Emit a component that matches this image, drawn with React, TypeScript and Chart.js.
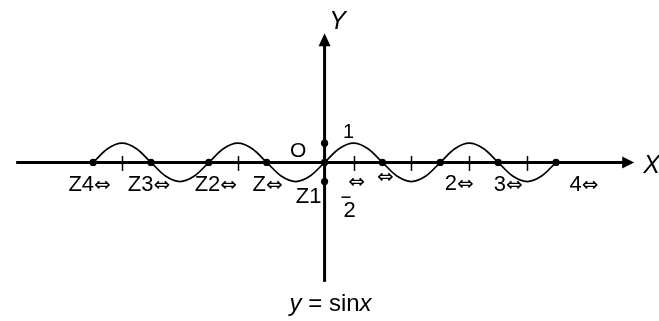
import React, { useEffect, useRef } from "react";
import { Chart, registerables } from "chart.js";

Chart.register(...registerables);

// ---- data (x in units of π) ----
const curveX = [-4, -3.75, -3.5, -3.25, -3, -2.75, -2.5, -2.25, -2, -1.75, -1.5, -1.25, -1, -0.75, -0.5, -0.25, 0, 0.25, 0.5, 0.75, 1, 1.25, 1.5, 1.75, 2, 2.25, 2.5, 2.75, 3, 3.25, 3.5, 3.75, 4];
const curveY = [0, 0.71, 1, 0.71, 0, -0.71, -1, -0.71, 0, 0.71, 1, 0.71, 0, -0.71, -1, -0.71, 0, 0.71, 1, 0.71, 0, -0.71, -1, -0.71, 0, 0.71, 1, 0.71, 0, -0.71, -1, -0.71, 0];
const dotX = [-4, -3, -2, -1, 0, 1, 2, 3, 4, 0, 0];
const dotY = [0, 0, 0, 0, 0, 0, 0, 0, 0, 1, -1];
const tickX = [-3.5, -1.5, 0.5, 1.5, 2.5, 3.5];
const xLabelValues = [-4, -3, -2, -1, 1, 2, 3, 4];
const xLabelTexts = ["Z4⇔", "Z3⇔", "Z2⇔", "Z⇔", "⇔", "2⇔", "3⇔", "4⇔"];
const xAxisRange = [-5.33, 5.35];
const yAxisRange = [-6.22, 6.73];
const scaleX = [-5.54, 5.71];
const scaleY = [-8.05, 8.25];

// ---- layout (pixel offsets from anchors: [dx, baseline dy]) ----
const xLabelOffsets = [
  [-3.5, 28.5], [-2, 28.5], [7, 28.5], [1, 28.5], [3, 20.5], [19, 27.5], [10, 28.5], [28, 28.5],
];
const FONT = "'Liberation Sans', Arial, sans-serif";
const ARROW_FONT = "'DejaVu Sans'";
const FS = 22;

function drawRich(ctx: CanvasRenderingContext2D, text: string, cx: number, by: number, size: number) {
  const runs: { t: string; arrow: boolean }[] = [];
  for (const ch of Array.from(text)) {
    const arrow = ch === "⇔";
    const last = runs[runs.length - 1];
    if (last && last.arrow === arrow) last.t += ch;
    else runs.push({ t: ch, arrow });
  }
  const fontFor = (arrow: boolean) => (arrow ? `${Math.round(size * 0.9)}px ${ARROW_FONT}` : `${size}px ${FONT}`);
  const widths = runs.map((r) => {
    ctx.font = fontFor(r.arrow);
    return ctx.measureText(r.t).width;
  });
  const total = widths.reduce((a, b) => a + b, 0);
  let x = cx - total / 2;
  ctx.textAlign = "left";
  ctx.textBaseline = "alphabetic";
  runs.forEach((r, i) => {
    ctx.font = fontFor(r.arrow);
    ctx.fillText(r.t, x, by);
    x += widths[i];
  });
}

const overlay = {
  id: "overlay",
  beforeDatasetsDraw(chart: any) {
    const ctx = chart.ctx as CanvasRenderingContext2D;
    const xs = chart.scales.x;
    const ys = chart.scales.y;
    const ox = xs.getPixelForValue(0);
    const oy = ys.getPixelForValue(0);
    ctx.save();
    ctx.strokeStyle = "#000";
    ctx.fillStyle = "#000";
    ctx.lineWidth = 3;
    // x axis
    const xl = xs.getPixelForValue(xAxisRange[0]);
    const xr = xs.getPixelForValue(xAxisRange[1]);
    ctx.beginPath();
    ctx.moveTo(xl, oy);
    ctx.lineTo(xr - 8, oy);
    ctx.stroke();
    ctx.beginPath();
    ctx.moveTo(xr, oy);
    ctx.lineTo(xr - 12, oy - 6);
    ctx.lineTo(xr - 12, oy + 6);
    ctx.closePath();
    ctx.fill();
    // y axis
    const yb = ys.getPixelForValue(yAxisRange[0]);
    const yt = ys.getPixelForValue(yAxisRange[1]);
    ctx.beginPath();
    ctx.moveTo(ox, yb);
    ctx.lineTo(ox, yt + 8);
    ctx.stroke();
    ctx.beginPath();
    ctx.moveTo(ox, yt);
    ctx.lineTo(ox - 6, yt + 13);
    ctx.lineTo(ox + 6, yt + 13);
    ctx.closePath();
    ctx.fill();
    // ticks
    ctx.lineWidth = 1.5;
    tickX.forEach((v) => {
      const px = Math.round(xs.getPixelForValue(v)) + 0.5;
      ctx.beginPath();
      ctx.moveTo(px, oy - 6.5);
      ctx.lineTo(px, oy + 8.5);
      ctx.stroke();
    });
    ctx.restore();
  },
  afterDatasetsDraw(chart: any) {
    const ctx = chart.ctx as CanvasRenderingContext2D;
    const xs = chart.scales.x;
    const ys = chart.scales.y;
    const ox = xs.getPixelForValue(0);
    const oy = ys.getPixelForValue(0);
    ctx.save();
    ctx.fillStyle = "#000";
    xLabelValues.forEach((v, i) => {
      const [dx, dy] = xLabelOffsets[i];
      drawRich(ctx, xLabelTexts[i], xs.getPixelForValue(v) + dx, oy + dy, FS);
    });
    // π/2 label: ⇔ over 2 with a bar
    const hx = xs.getPixelForValue(0.5);
    drawRich(ctx, "⇔", hx + 3, oy + 25.5, FS);
    drawRich(ctx, "2", hx - 4, oy + 55, FS);
    ctx.fillRect(hx - 12, oy + 34, 9, 1.5);
    // origin, 1, Z1
    drawRich(ctx, "O", ox - 26.5, oy - 5.5, 21);
    drawRich(ctx, "1", ox + 24, ys.getPixelForValue(1) - 5.5, 20);
    drawRich(ctx, "Z1", ox - 16, ys.getPixelForValue(-1) + 21, FS);
    // axis names
    ctx.textBaseline = "alphabetic";
    ctx.textAlign = "center";
    ctx.font = `italic 25px ${FONT}`;
    ctx.fillText("Y", ox + 13, ys.getPixelForValue(yAxisRange[1]) - 4);
    ctx.textAlign = "left";
    ctx.fillText("X", xs.getPixelForValue(xAxisRange[1]) + 9, oy + 10.5);
    // caption y = sinx
    const CS = 24;
    const parts: [string, boolean][] = [["y", true], [" = sin", false], ["x", true]];
    const widths = parts.map(([t, it]) => {
      ctx.font = `${it ? "italic " : ""}${CS}px ${FONT}`;
      return ctx.measureText(t).width;
    });
    const total = widths.reduce((a, b) => a + b, 0);
    let cx = ox + 6 - total / 2;
    const cy = ys.getPixelForValue(yAxisRange[0]) + 29;
    parts.forEach(([t, it], i) => {
      ctx.font = `${it ? "italic " : ""}${CS}px ${FONT}`;
      ctx.fillText(t, cx, cy);
      cx += widths[i];
    });
    ctx.restore();
  },
};

export default function App() {
  const ref = useRef<HTMLCanvasElement | null>(null);
  useEffect(() => {
    if (!ref.current) return;
    const chart = new Chart(ref.current, {
      type: "scatter",
      data: {
        datasets: [
          {
            data: curveX.map((x, i) => ({ x, y: curveY[i] })),
            showLine: true,
            borderColor: "#000",
            borderWidth: 1.7,
            pointRadius: 0,
            cubicInterpolationMode: "monotone",
            fill: false,
          } as any,
          {
            data: dotX.map((x, i) => ({ x, y: dotY[i] })),
            showLine: false,
            pointRadius: 3.6,
            pointBackgroundColor: "#000",
            pointBorderColor: "#000",
            pointBorderWidth: 0,
          } as any,
        ],
      },
      options: {
        animation: false,
        responsive: false,
        maintainAspectRatio: false,
        layout: { padding: 0 },
        plugins: { legend: { display: false }, tooltip: { enabled: false }, title: { display: false } },
        scales: {
          x: { type: "linear", min: scaleX[0], max: scaleX[1], display: false },
          y: { type: "linear", min: scaleY[0], max: scaleY[1], display: false },
        },
      },
      plugins: [overlay],
    });
    return () => chart.destroy();
  }, []);
  return (
    <div style={{ position: "absolute", left: 0, top: 0, width: 659, height: 321, background: "#fff" }}>
      <canvas ref={ref} width={659} height={321} style={{ display: "block", width: 659, height: 321 }} />
    </div>
  );
}
